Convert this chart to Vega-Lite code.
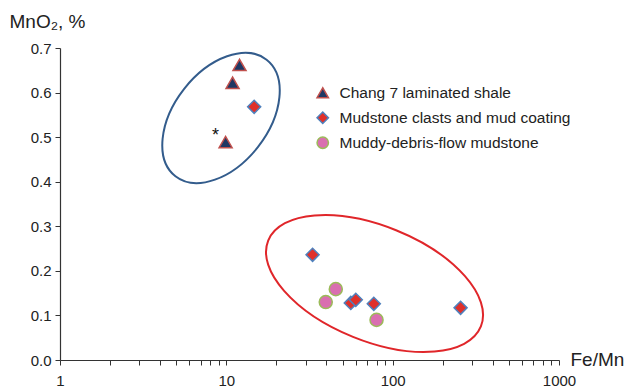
{
  "$schema": "https://vega.github.io/schema/vega-lite/v6.json",
  "width": 499,
  "height": 312,
  "autosize": {"type": "none"},
  "padding": {"left": 60, "top": 48, "right": 69, "bottom": 27},
  "background": "white",
  "config": {
    "view": {"stroke": null},
    "font": "Liberation Sans",
    "axis": {"grid": false, "domainColor": "#333", "tickColor": "#333", "labelColor": "#222", "titleColor": "#222", "labelFont": "Liberation Sans", "titleFont": "Liberation Sans", "titleFontWeight": "normal", "labelFontSize": 15, "titleFontSize": 19, "domainWidth": 1.2, "tickWidth": 1}
  },
  "datasets": {
    "samples": [
      {"series": "Chang 7 laminated shale", "fe_mn": 12.0, "mno2": 0.662},
      {"series": "Chang 7 laminated shale", "fe_mn": 10.9, "mno2": 0.622},
      {"series": "Chang 7 laminated shale", "fe_mn": 9.9, "mno2": 0.489},
      {"series": "Mudstone clasts and mud coating", "fe_mn": 14.7, "mno2": 0.568},
      {"series": "Mudstone clasts and mud coating", "fe_mn": 33.0, "mno2": 0.236},
      {"series": "Mudstone clasts and mud coating", "fe_mn": 56.0, "mno2": 0.128},
      {"series": "Mudstone clasts and mud coating", "fe_mn": 60.0, "mno2": 0.135},
      {"series": "Mudstone clasts and mud coating", "fe_mn": 77.0, "mno2": 0.126},
      {"series": "Mudstone clasts and mud coating", "fe_mn": 256.0, "mno2": 0.117},
      {"series": "Muddy-debris-flow mudstone", "fe_mn": 45.5, "mno2": 0.159},
      {"series": "Muddy-debris-flow mudstone", "fe_mn": 39.6, "mno2": 0.130},
      {"series": "Muddy-debris-flow mudstone", "fe_mn": 80.0, "mno2": 0.090}
    ],
    "ellipseBlue": [{"fe_mn": 9.29, "mno2": 0.543}],
    "ellipseRed": [{"fe_mn": 77.8, "mno2": 0.1716}],
    "marker": [{"fe_mn": 8.6, "mno2": 0.512, "label": "*"}]
  },
  "layer": [
    {
      "data": {"name": "ellipseBlue"},
      "mark": {"type": "point", "filled": false, "shape": "M -0.47,0 A 0.47,0.74 0 1,1 0.47,0 A 0.47,0.74 0 1,1 -0.47,0 Z", "size": 40000, "angle": 38, "stroke": "#335c8c", "strokeWidth": 2, "opacity": 1},
      "encoding": {
        "x": {"field": "fe_mn", "type": "quantitative", "scale": {"type": "log", "domain": [1, 1000], "nice": false},
          "axis": {"values": [1,2,3,4,5,6,7,8,9,10,20,30,40,50,60,70,80,90,100,200,300,400,500,600,700,800,900,1000],
            "labelExpr": "(datum.value == 1 || datum.value == 10 || datum.value == 100 || datum.value == 1000) ? datum.value : ''",
            "tickSize": 5, "labelPadding": 8, "labelFlush": false, "labelOverlap": false,
            "title": "Fe/Mn", "titleAnchor": "start", "titleAlign": "left", "titleBaseline": "middle", "titleX": 510, "titleY": -1}},
        "y": {"field": "mno2", "type": "quantitative", "scale": {"domain": [0, 0.7], "nice": false, "zero": true},
          "axis": {"values": [0,0.1,0.2,0.3,0.4,0.5,0.6,0.7], "format": ".1f", "tickSize": 5, "labelPadding": 4,
            "title": "MnO₂, %", "titleAngle": 0, "titleAlign": "left", "titleBaseline": "alphabetic", "titleX": -51, "titleY": -21}}
      }
    },
    {
      "data": {"name": "ellipseRed"},
      "mark": {"type": "point", "filled": false, "shape": "M -1.147,0 A 1.147,0.575 0 1,1 1.147,0 A 1.147,0.575 0 1,1 -1.147,0 Z", "size": 40000, "angle": 22, "stroke": "#e0262a", "strokeWidth": 2, "opacity": 1},
      "encoding": {
        "x": {"field": "fe_mn", "type": "quantitative"},
        "y": {"field": "mno2", "type": "quantitative"}
      }
    },
    {
      "data": {"name": "marker"},
      "mark": {"type": "text", "fontSize": 18, "baseline": "middle", "align": "center", "dy": 4, "color": "#111"},
      "encoding": {
        "x": {"field": "fe_mn", "type": "quantitative"},
        "y": {"field": "mno2", "type": "quantitative"},
        "text": {"field": "label"}
      }
    },
    {
      "data": {"name": "samples"},
      "mark": {"type": "point", "filled": true, "opacity": 1, "strokeWidth": 1.5},
      "encoding": {
        "x": {"field": "fe_mn", "type": "quantitative"},
        "y": {"field": "mno2", "type": "quantitative"},
        "shape": {"field": "series", "type": "nominal",
          "scale": {"domain": ["Chang 7 laminated shale", "Mudstone clasts and mud coating", "Muddy-debris-flow mudstone"], "range": ["triangle-up", "diamond", "circle"]},
          "legend": {"title": null, "orient": "none", "legendX": 255, "legendY": 37, "padding": 0, "symbolSize": 130, "symbolStrokeWidth": 1.5, "labelFontSize": 15.5, "labelFont": "Liberation Sans", "labelColor": "#222", "labelOffset": 9, "labelLimit": 400, "rowPadding": 7, "symbolOpacity": 1}},
        "fill": {"field": "series", "type": "nominal",
          "scale": {"domain": ["Chang 7 laminated shale", "Mudstone clasts and mud coating", "Muddy-debris-flow mudstone"], "range": ["#1f3864", "#e0302a", "#d96fb0"]},
          "legend": {"title": null, "orient": "none", "legendX": 255, "legendY": 37, "padding": 0, "symbolSize": 130, "symbolStrokeWidth": 1.5, "labelFontSize": 15.5, "labelFont": "Liberation Sans", "labelColor": "#222", "labelOffset": 9, "labelLimit": 400, "rowPadding": 7, "symbolOpacity": 1}},
        "stroke": {"field": "series", "type": "nominal",
          "scale": {"domain": ["Chang 7 laminated shale", "Mudstone clasts and mud coating", "Muddy-debris-flow mudstone"], "range": ["#c0504d", "#4f81bd", "#9bbb59"]},
          "legend": {"title": null, "orient": "none", "legendX": 255, "legendY": 37, "padding": 0, "symbolSize": 130, "symbolStrokeWidth": 1.5, "labelFontSize": 15.5, "labelFont": "Liberation Sans", "labelColor": "#222", "labelOffset": 9, "labelLimit": 400, "rowPadding": 7, "symbolOpacity": 1}},
        "size": {"value": 170}
      }
    }
  ]
}
